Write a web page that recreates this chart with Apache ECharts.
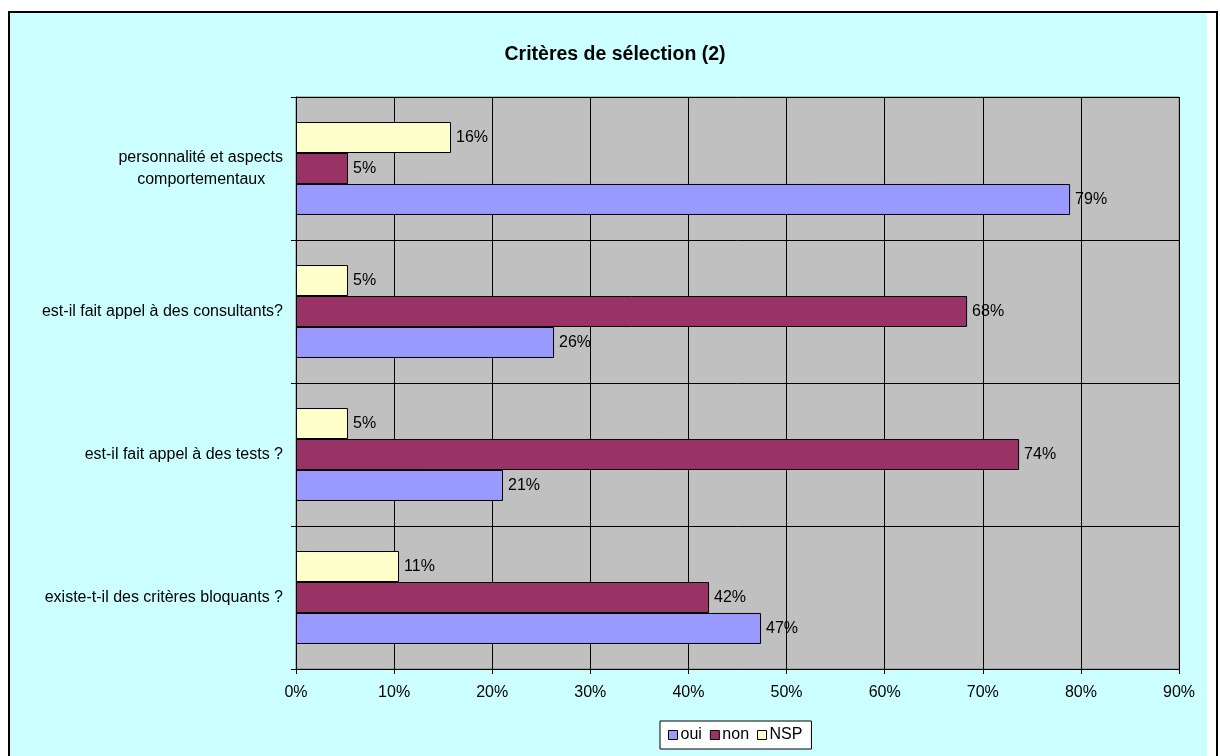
<!DOCTYPE html>
<html>
<head>
<meta charset="utf-8">
<script src="https://cdn.jsdelivr.net/npm/echarts@6/dist/echarts.min.js"></script>
<style>
  html, body { margin: 0; padding: 0; background: #ffffff; width: 1220px; height: 756px; overflow: hidden; }
  #frame { position: absolute; left: 8px; top: 11px; width: 1206px; height: 760px;
           border: 2px solid #000; border-bottom: none; background: #ffffff; }
  #chart { position: absolute; left: 0; top: 0; width: 1197px; height: 743px; }
</style>
</head>
<body>
<div id="frame"><div id="chart"></div></div>
<script>
// Questions, listed bottom to top as they appear on the category axis
const categories = [
  'existe-t-il des critères bloquants ?',
  'est-il fait appel à des tests ?',
  'est-il fait appel à des consultants?',
  'personnalité et aspects\ncomportementaux    '
];
// Answer shares in percent, one value per question
const oui = [47.4, 21.1, 26.3, 78.9];
const non = [42.1, 73.7, 68.4, 5.3];
const nsp = [10.5, 5.3, 5.3, 15.8];
const seriesNames = ['oui', 'non', 'NSP'];
const seriesColors = ['#9999FF', '#993366', '#FFFFCC'];
const xTicks = { min: 0, max: 90, interval: 10 };

const FONT = 'Liberation Sans, Arial, sans-serif';
const FS = 16;

const chart = echarts.init(document.getElementById('chart'), null, { renderer: 'canvas' });

function barSeries(name, data, color) {
  return {
    name: name,
    type: 'bar',
    data: data,
    barGap: '0%',
    barCategoryGap: '35%',
    itemStyle: { color: color, borderColor: '#000', borderWidth: 1 },
    label: {
      show: true,
      position: 'right',
      distance: 5,
      color: '#000',
      fontFamily: FONT,
      fontSize: FS,
      formatter: p => Math.round(p.value) + '%'
    },
    emphasis: { disabled: true }
  };
}

chart.setOption({
  backgroundColor: '#CCFFFF',
  animation: false,
  textStyle: { fontFamily: FONT, color: '#000' },
  title: {
    text: 'Critères de sélection (2)',
    left: 600,
    top: 27,
    textAlign: 'center',
    textStyle: { fontFamily: FONT, fontSize: 19.5, fontWeight: 'bold', color: '#000' }
  },
  legend: {
    data: seriesNames,
    left: 650,
    top: 708,
    backgroundColor: '#ffffff',
    borderColor: '#000',
    borderWidth: 1,
    borderRadius: 0,
    padding: [6, 9, 6, 8],
    itemWidth: 9,
    itemHeight: 9,
    itemGap: 8,
    icon: 'rect',
    itemStyle: { borderColor: '#000', borderWidth: 1 },
    textStyle: { fontFamily: FONT, fontSize: FS, color: '#000', padding: [0, 0, 0, -2] }
  },
  grid: {
    left: 286,
    top: 84,
    right: 28,
    bottom: 87,
    show: true,
    backgroundColor: '#C0C0C0',
    borderColor: '#808080',
    borderWidth: 1
  },
  xAxis: {
    type: 'value',
    min: xTicks.min,
    max: xTicks.max,
    interval: xTicks.interval,
    axisLine: { show: true, lineStyle: { color: '#000', width: 1 } },
    axisTick: { show: true, length: 5, lineStyle: { color: '#000' } },
    axisLabel: { formatter: '{value}%', fontFamily: FONT, fontSize: FS, color: '#000', margin: 16 },
    splitLine: { show: true, lineStyle: { color: '#000', width: 1 } }
  },
  yAxis: {
    type: 'category',
    data: categories,
    axisLine: { show: true, lineStyle: { color: '#000', width: 1 } },
    axisTick: { show: true, length: 5, lineStyle: { color: '#000' } },
    axisLabel: { fontFamily: FONT, fontSize: FS, color: '#000', margin: 13, lineHeight: 22 },
    splitLine: { show: true, lineStyle: { color: '#000', width: 1 } }
  },
  // NSP is listed first so that it sits at the top of each group
  series: [
    barSeries(seriesNames[2], nsp, seriesColors[2]),
    barSeries(seriesNames[1], non, seriesColors[1]),
    barSeries(seriesNames[0], oui, seriesColors[0])
  ]
});
</script>
</body>
</html>
